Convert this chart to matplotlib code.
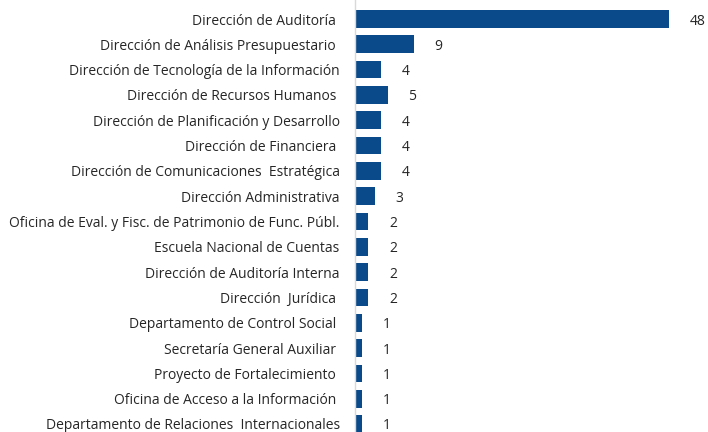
import matplotlib
matplotlib.use('Agg')
from matplotlib import pyplot as plt

labels = [
    'Dirección de Auditoría ',
    'Dirección de Análisis Presupuestario ',
    'Dirección de Tecnología de la Información',
    'Dirección de Recursos Humanos ',
    'Dirección de Planificación y Desarrollo',
    'Dirección de Financiera ',
    'Dirección de Comunicaciones  Estratégica',
    'Dirección Administrativa',
    'Oficina de Eval. y Fisc. de Patrimonio de Func. Públ.',
    'Escuela Nacional de Cuentas',
    'Dirección de Auditoría Interna',
    'Dirección  Jurídica ',
    'Departamento de Control Social ',
    'Secretaría General Auxiliar ',
    'Proyecto de Fortalecimiento ',
    'Oficina de Acceso a la Información ',
    'Departamento de Relaciones  Internacionales',
]
values = [48, 9, 4, 5, 4, 4, 4, 3, 2, 2, 2, 2, 1, 1, 1, 1, 1]

W, H = 708, 432
fig = plt.figure(figsize=(W / 100, H / 100), dpi=100)
ax = fig.add_axes([355 / W, 0, 1 - 355 / W, 1])

pos = list(range(len(values)))
bars = ax.barh(pos, values, height=0.7, color='#0b4a8a')

ax.set_xlim(0, (W - 355) / ((669 - 355) / 48))
ax.set_ylim(16 + 8 / 25.31, -19 / 25.31)

ax.set_yticks(pos)
ax.set_yticklabels(labels, fontsize=10, color='#262626', family='Open Sans')
ax.tick_params(axis='y', length=0, pad=11)
ax.set_xticks([])

for s in ['top', 'right', 'bottom']:
    ax.spines[s].set_visible(False)
ax.spines['left'].set_color('#d9d9d9')
ax.spines['left'].set_linewidth(1)

for b, v in zip(bars, values):
    ax.annotate(str(v), (b.get_width(), b.get_y() + b.get_height() / 2),
                xytext=(15, 0), textcoords='offset points',
                ha='left', va='center_baseline', fontsize=10, color='#262626',
                family='Open Sans')

fig.savefig('out.png', dpi=100)
